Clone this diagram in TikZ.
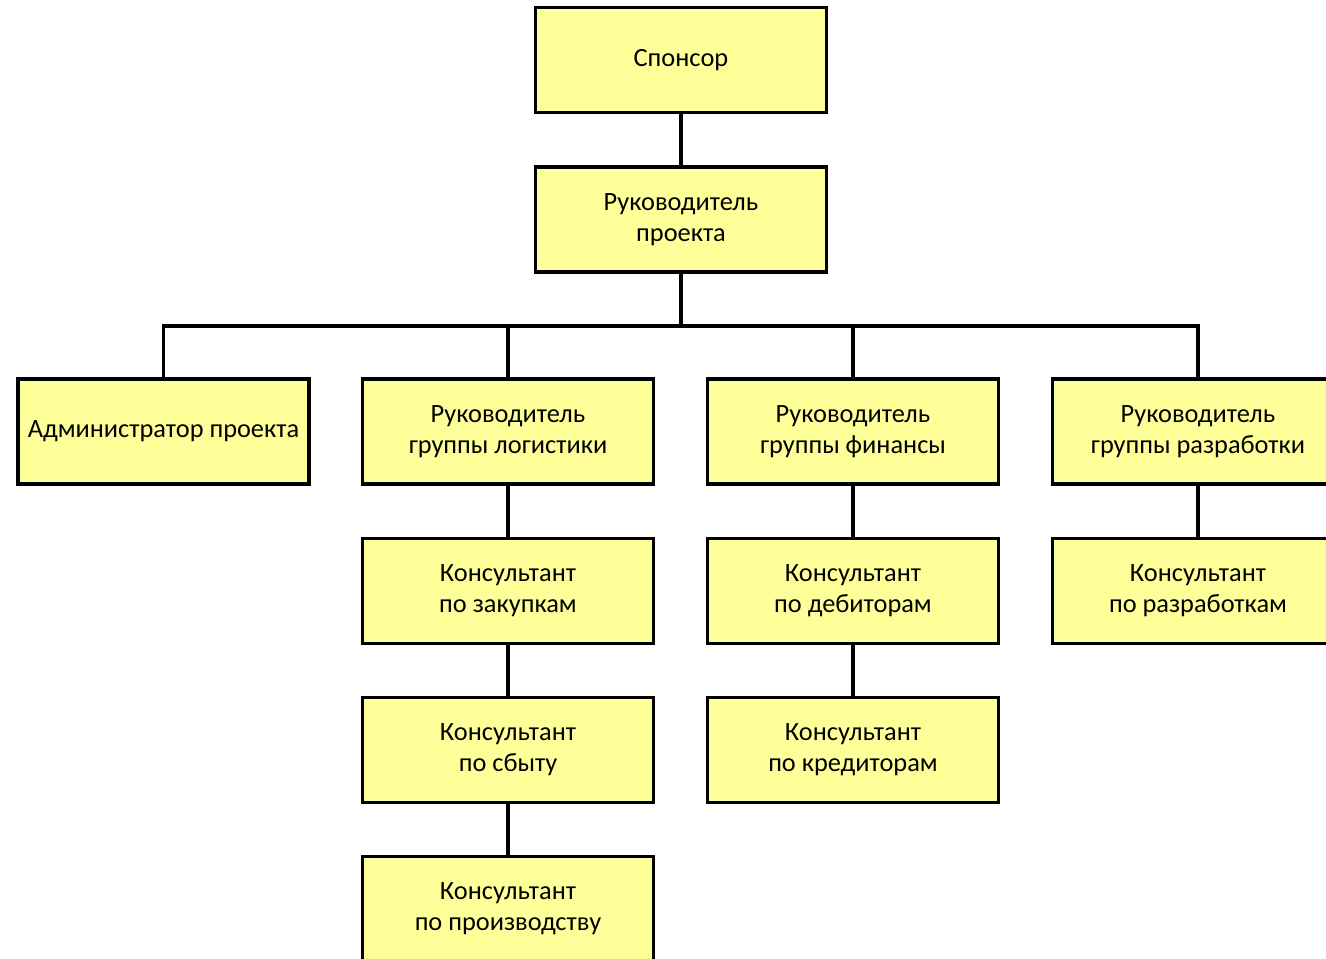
\documentclass[tikz,border=0pt]{standalone}
\usepackage{fontspec}
\setmainfont{Carlito}
\usepackage{tikz}
\usetikzlibrary{positioning}
\definecolor{boxyellow}{HTML}{FFFF99}

\begin{document}
\begin{tikzpicture}[
		rolebox/.style={draw,line width=2pt,fill=boxyellow,minimum width=5.82cm,minimum height=2.1cm,inner sep=0pt,align=center,font=\fontsize{15}{17.6}\selectfont},
		link/.style={line width=2pt}]
		\useasboundingbox (0,0) rectangle (26.52,-19.16);
		\clip (0,0) rectangle (26.52,-19.16);
		% top of the tree
		\node[rolebox] (sponsor) at (13.62,-1.20) {Спонсор};
		\node[rolebox] (pm) at (13.62,-4.39) {Руководитель\\проекта};
		% second row
		\node[rolebox] (admin) at (3.27,-8.63) {Администратор проекта};
		\node[rolebox] (logist) at (10.16,-8.63) {Руководитель\\группы логистики};
		\node[rolebox] (finance) at (17.06,-8.63) {Руководитель\\группы финансы};
		\node[rolebox] (devel) at (23.96,-8.63) {Руководитель\\группы разработки};
		% consultants
		\node[rolebox] (buy) at (10.16,-11.82) {Консультант\\по закупкам};
		\node[rolebox] (sales) at (10.16,-15.00) {Консультант\\по сбыту};
		\node[rolebox] (prod) at (10.16,-18.18) {Консультант\\по производству};
		\node[rolebox] (debit) at (17.06,-11.82) {Консультант\\по дебиторам};
		\node[rolebox] (credit) at (17.06,-15.00) {Консультант\\по кредиторам};
		\node[rolebox] (devcons) at (23.96,-11.82) {Консультант\\по разработкам};
		% connectors
		\coordinate (bus) at (13.62,-6.52);
		\draw[link] (sponsor) -- (pm);
		\draw[link] (pm) -- (bus);
		\draw[link] (admin.north) |- (bus) -| (devel.north);
		\draw[link] (logist.north) -- (logist.north |- bus);
		\draw[link] (finance.north) -- (finance.north |- bus);
		\draw[link] (logist) -- (buy);
		\draw[link] (buy) -- (sales);
		\draw[link] (sales) -- (prod);
		\draw[link] (finance) -- (debit);
		\draw[link] (debit) -- (credit);
		\draw[link] (devel) -- (devcons);
	\end{tikzpicture}
\end{document}
